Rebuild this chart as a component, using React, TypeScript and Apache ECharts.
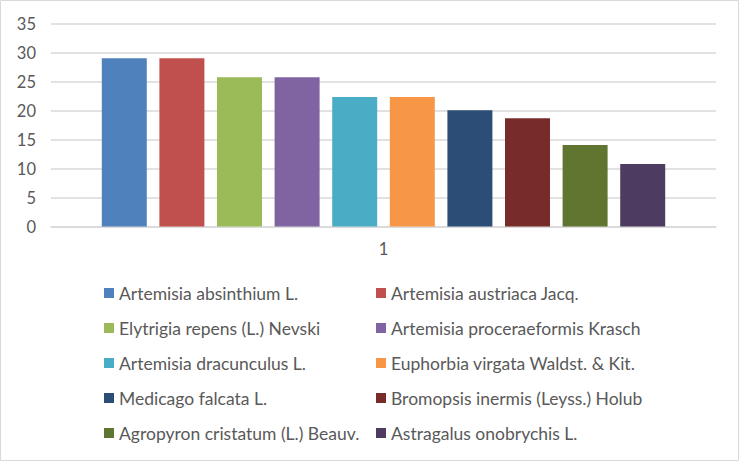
import React, { useEffect, useRef } from "react";
import * as echarts from "echarts";

const categories = ["1"];
const seriesNames = [
  "Artemisia absinthium L.",
  "Artemisia austriaca Jacq.",
  "Elytrigia repens (L.) Nevski",
  "Artemisia proceraeformis Krasch",
  "Artemisia dracunculus L.",
  "Euphorbia virgata Waldst. & Kit.",
  "Medicago falcata L.",
  "Bromopsis inermis (Leyss.) Holub",
  "Agropyron cristatum (L.) Beauv.",
  "Astragalus onobrychis L.",
];
const seriesValues = [29.1, 29.1, 25.8, 25.8, 22.4, 22.4, 20.1, 18.7, 14.1, 10.8];
const yTicks = { min: 0, max: 35, interval: 5 };

const colors = [
  "#4F81BD",
  "#C0504D",
  "#9BBB59",
  "#8064A2",
  "#4BACC6",
  "#F79646",
  "#2C4D75",
  "#772C2A",
  "#5F7530",
  "#4D3B62",
];

const FONT = "Lato";
const TEXT = "#595959";

export default function App() {
  const ref = useRef<HTMLDivElement>(null);
  useEffect(() => {
    document.body.style.margin = "0";
    const chart = echarts.init(ref.current!, undefined, { renderer: "svg" });
    const legends = seriesNames.map((name, i) => ({
      data: [name],
      left: i % 2 === 0 ? 104 : 376,
      top: 284 + Math.floor(i / 2) * 35,
      itemWidth: 10,
      itemHeight: 10,
      icon: "rect",
      padding: 0,
      itemGap: 0,
      selectedMode: false,
      textStyle: { fontFamily: FONT, fontSize: 17.5, color: TEXT, padding: [0, 0, 0, 0] },
    }));
    chart.setOption({
      animation: false,
      color: colors,
      backgroundColor: "#ffffff",
      textStyle: { fontFamily: FONT },
      grid: { left: 51, right: 23, top: 24, bottom: 234.5, containLabel: false },
      legend: legends,
      xAxis: {
        type: "category",
        data: categories,
        axisLine: { show: true, lineStyle: { color: "#d9d9d9", width: 1.5 } },
        axisTick: { show: false },
        axisLabel: { fontFamily: FONT, fontSize: 16.5, color: TEXT, margin: 14 },
      },
      yAxis: {
        type: "value",
        min: yTicks.min,
        max: yTicks.max,
        interval: yTicks.interval,
        axisLine: { show: false },
        axisTick: { show: false },
        splitLine: { lineStyle: { color: "#d9d9d9", width: 1.5 } },
        axisLabel: { fontFamily: FONT, fontSize: 16.5, color: TEXT, margin: 15 },
      },
      graphic: [
        {
          type: "rect",
          shape: { x: 0.5, y: 0.5, width: 738, height: 460 },
          style: { fill: "none", stroke: "#d9d9d9", lineWidth: 1 },
          silent: true,
        },
      ],
      series: seriesNames.map((name, i) => ({
        name,
        type: "bar",
        data: [seriesValues[i]],
        barWidth: 45,
        barGap: "28%",
        barCategoryGap: "15%",
      })),
    });
    return () => chart.dispose();
  }, []);
  return (
    <div
      ref={ref}
      style={{ position: "absolute", left: 0, top: 0, width: 739, height: 461 }}
    />
  );
}
